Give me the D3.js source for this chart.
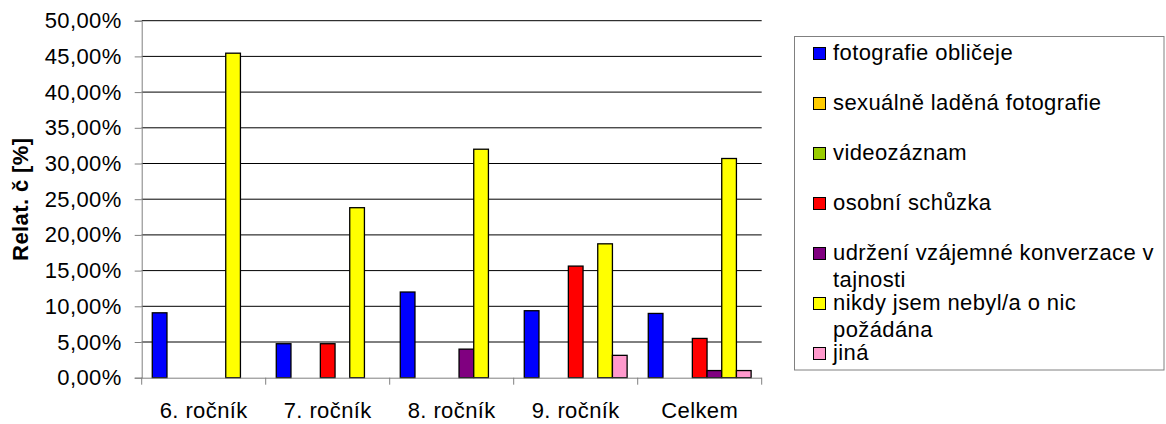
<!DOCTYPE html>
<html>
<head>
<meta charset="utf-8">
<script src="https://cdn.jsdelivr.net/npm/d3@7"></script>
<style>
html,body{margin:0;padding:0;background:#fff;}
svg{display:block;font-family:"Liberation Sans",Arial,sans-serif;}
svg text{letter-spacing:0.4px;}
</style>
</head>
<body>
<svg id="chart" width="1166" height="424"></svg>
<script>
const categories = ["6. ročník", "7. ročník", "8. ročník", "9. ročník", "Celkem"];
const seriesNames = [
  "fotografie obličeje",
  "sexuálně laděná fotografie",
  "videozáznam",
  "osobní schůzka",
  "udržení vzájemné konverzace v tajnosti",
  "nikdy jsem nebyl/a o nic požádána",
  "jiná"
];
const seriesColors = ["#0000FF", "#FFCC00", "#99CC00", "#FF0000", "#800080", "#FFFF00", "#FF99CC"];
const fotografie = [9.09, 4.76, 12.0, 9.38, 9.0];
const sexualne   = [0, 0, 0, 0, 0];
const video      = [0, 0, 0, 0, 0];
const osobni     = [0, 4.76, 0, 15.63, 5.5];
const udrzeni    = [0, 0, 4.0, 0, 1.0];
const nikdy      = [45.45, 23.81, 32.0, 18.75, 30.7];
const jina       = [0, 0, 0, 3.13, 1.0];
const yTicks = [0, 5, 10, 15, 20, 25, 30, 35, 40, 45, 50];

const seriesValues = [fotografie, sexualne, video, osobni, udrzeni, nikdy, jina];

(function () {
const svg = d3.select("#chart");
const FONT = 22;
const pL = 141.7, pR = 761.7, pT = 20.7, pB = 377.7;

const x0 = d3.scaleBand().domain(categories).range([pL, pR]).padding(0);
const x1 = d3.scaleBand().domain(d3.range(seriesNames.length)).range([0, x0.bandwidth()]).paddingInner(0).paddingOuter(0.72);
const y = d3.scaleLinear().domain([0, 50]).range([pB, pT]);

// gridlines
svg.append("g").selectAll("line").data(yTicks.filter(t => t > 0)).join("line")
  .attr("x1", pL).attr("x2", pR)
  .attr("y1", d => y(d)).attr("y2", d => y(d))
  .attr("stroke", "#000").attr("stroke-width", 1);

// bars
const flat = [];
categories.forEach((c, ci) => {
  seriesValues.forEach((arr, si) => {
    if (arr[ci] > 0) flat.push({c, si, v: arr[ci]});
  });
});
svg.append("g").selectAll("rect").data(flat).join("rect")
  .attr("x", d => x0(d.c) + x1(d.si))
  .attr("width", x1.bandwidth())
  .attr("y", d => y(d.v))
  .attr("height", d => y(0) - y(d.v))
  .attr("fill", d => seriesColors[d.si])
  .attr("stroke", "#000").attr("stroke-width", 1.3);

// y axis
const yAxis = d3.axisLeft(y).tickValues(yTicks).tickSize(7).tickPadding(13)
  .tickFormat(d => d.toFixed(2).replace(".", ",") + "%");
const gy = svg.append("g").attr("transform", `translate(${pL},0)`).call(yAxis);
gy.select(".domain").attr("stroke", "#808080");
gy.selectAll(".tick line").attr("stroke", "#808080");
gy.selectAll(".tick text").attr("font-size", FONT).attr("fill", "#000")
  .attr("font-family", "'Liberation Sans',Arial,sans-serif");

// x axis
const xAxis = d3.axisBottom(x0).tickSize(0).tickPadding(0);
const gx = svg.append("g").attr("transform", `translate(0,${pB})`).call(xAxis);
gx.select(".domain").attr("stroke", "#808080").attr("d", `M${pL},0.5H${pR}`);
gx.selectAll(".tick text").attr("font-size", FONT).attr("fill", "#000")
  .attr("font-family", "'Liberation Sans',Arial,sans-serif")
  .attr("dy", null).attr("y", 40.5);
const seps = categories.map(c => x0(c)).concat([pR]);
gx.append("g").selectAll("line").data(seps).join("line")
  .attr("x1", d => d).attr("x2", d => d).attr("y1", 0).attr("y2", 7)
  .attr("stroke", "#808080");

// y label
svg.append("text")
  .attr("transform", `translate(27.5,${(pT + pB) / 2}) rotate(-90)`)
  .attr("text-anchor", "middle")
  .attr("font-size", FONT).attr("font-weight", "bold")
  .text("Relat. č [%]");

// legend
const lg = svg.append("g");
lg.append("rect").attr("x", 794.5).attr("y", 36.5).attr("width", 369.5).attr("height", 333.5)
  .attr("fill", "#fff").attr("stroke", "#808080").attr("stroke-width", 1);
const maxW = 328;
seriesNames.forEach((name, i) => {
  const by = 60 + 50 * i;
  lg.append("rect").attr("x", 813.5).attr("y", by - 12.5).attr("width", 12).attr("height", 12)
    .attr("fill", seriesColors[i]).attr("stroke", "#000").attr("stroke-width", 1);
  const t = lg.append("text").attr("x", 833).attr("y", by).attr("font-size", FONT);
  const words = name.split(" ");
  let line = [];
  let ts = t.append("tspan").attr("x", 833).attr("y", by);
  let lineNo = 0;
  words.forEach(w => {
    line.push(w);
    ts.text(line.join(" "));
    if (ts.node().getComputedTextLength() > maxW && line.length > 1) {
      line.pop();
      ts.text(line.join(" "));
      line = [w];
      lineNo++;
      ts = t.append("tspan").attr("x", 833).attr("y", by + 27 * lineNo).text(w);
    }
  });
});
})();
</script>
</body>
</html>
